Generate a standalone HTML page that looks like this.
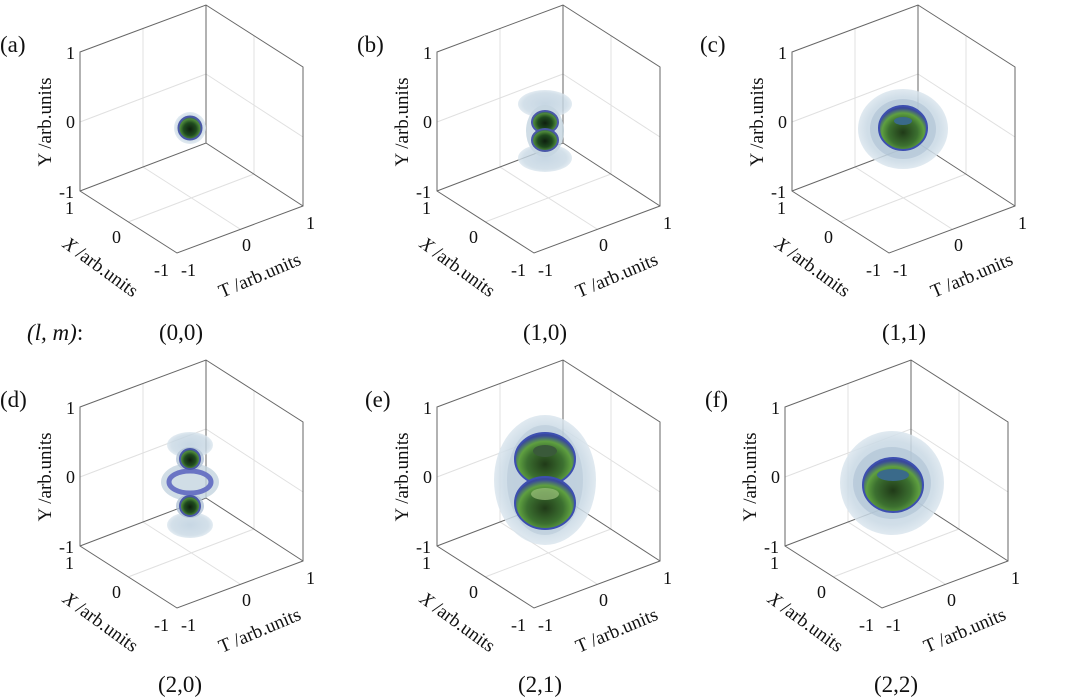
<!DOCTYPE html>
<html><head><meta charset="utf-8"><style>
body{margin:0;background:#fff}
*{font-family:"Liberation Serif","Times New Roman","DejaVu Serif",serif !important}
</style></head><body>
<svg width="1080" height="697" viewBox="0 0 1080 697" xmlns="http://www.w3.org/2000/svg" style="display:block;font-family:'Liberation Serif','DejaVu Serif',serif" fill="#111">
<defs>
<radialGradient id="core" cx="50%" cy="55%" r="55%">
<stop offset="0" stop-color="#0e1f0e"/><stop offset="0.5" stop-color="#1f4a1f"/><stop offset="0.8" stop-color="#4f8a3a"/><stop offset="1" stop-color="#2a4a80"/>
</radialGradient>
<radialGradient id="tor" cx="50%" cy="60%" r="55%">
<stop offset="0" stop-color="#203a18"/><stop offset="0.55" stop-color="#3c7030"/><stop offset="0.8" stop-color="#5fa040"/><stop offset="1" stop-color="#3a4a9a"/>
</radialGradient>
<radialGradient id="halo" cx="50%" cy="50%" r="50%">
<stop offset="0" stop-color="#b9cddd"/><stop offset="0.8" stop-color="#c8d8e4"/><stop offset="1" stop-color="#dbe6ee"/>
</radialGradient>
</defs>

<g id="a0">
<g stroke="#e0e0e0" stroke-width="1" fill="none">
<line x1="143" y1="29" x2="143" y2="167"/><line x1="80" y1="122" x2="206" y2="74"/>
<line x1="254" y1="36" x2="254" y2="174"/><line x1="206" y1="74" x2="303" y2="137"/>
<line x1="128" y1="222" x2="254" y2="174"/><line x1="143" y1="167" x2="240" y2="229"/>
</g>
<g stroke="#666" stroke-width="1" fill="none">
<polygon points="80,52 206,5 303,67 303,206 177,253 80,191"/>
<polyline points="80,191 206,143 303,206"/><line x1="206" y1="5" x2="206" y2="143"/>
</g>
</g>
<use href="#a0" x="357" y="0"/><use href="#a0" x="712" y="0"/>
<use href="#a0" x="0" y="355"/><use href="#a0" x="357" y="355"/><use href="#a0" x="705" y="355"/>

<!-- labels per panel (no <use>, to keep fonts) -->
<g font-size="18">
<g id="L">
<text x="66" y="59">1</text><text x="66" y="128">0</text><text x="59" y="198">-1</text>
<text x="65" y="214">1</text><text x="112" y="243">0</text><text x="154" y="276">-1</text>
<text x="181" y="276">-1</text><text x="242" y="251">0</text><text x="306" y="229">1</text>
<text font-size="19" text-anchor="middle" transform="translate(51,122) rotate(-90)">Y /arb.units</text>
<text font-size="19" text-anchor="middle" transform="translate(97,272) rotate(36)"><tspan font-style="italic">X</tspan> /arb.units</text>
<text font-size="19" text-anchor="middle" transform="translate(262,281) rotate(-23)">T /arb.units</text>
</g>
<g transform="translate(357,0)">
<text x="66" y="59">1</text><text x="66" y="128">0</text><text x="59" y="198">-1</text>
<text x="65" y="214">1</text><text x="112" y="243">0</text><text x="154" y="276">-1</text>
<text x="181" y="276">-1</text><text x="242" y="251">0</text><text x="306" y="229">1</text>
<text font-size="19" text-anchor="middle" transform="translate(51,122) rotate(-90)">Y /arb.units</text>
<text font-size="19" text-anchor="middle" transform="translate(97,272) rotate(36)"><tspan font-style="italic">X</tspan> /arb.units</text>
<text font-size="19" text-anchor="middle" transform="translate(262,281) rotate(-23)">T /arb.units</text>
</g>
<g transform="translate(712,0)">
<text x="66" y="59">1</text><text x="66" y="128">0</text><text x="59" y="198">-1</text>
<text x="65" y="214">1</text><text x="112" y="243">0</text><text x="154" y="276">-1</text>
<text x="181" y="276">-1</text><text x="242" y="251">0</text><text x="306" y="229">1</text>
<text font-size="19" text-anchor="middle" transform="translate(51,122) rotate(-90)">Y /arb.units</text>
<text font-size="19" text-anchor="middle" transform="translate(97,272) rotate(36)"><tspan font-style="italic">X</tspan> /arb.units</text>
<text font-size="19" text-anchor="middle" transform="translate(262,281) rotate(-23)">T /arb.units</text>
</g>
<g transform="translate(0,355)">
<text x="66" y="59">1</text><text x="66" y="128">0</text><text x="59" y="198">-1</text>
<text x="65" y="214">1</text><text x="112" y="243">0</text><text x="154" y="276">-1</text>
<text x="181" y="276">-1</text><text x="242" y="251">0</text><text x="306" y="229">1</text>
<text font-size="19" text-anchor="middle" transform="translate(51,122) rotate(-90)">Y /arb.units</text>
<text font-size="19" text-anchor="middle" transform="translate(97,272) rotate(36)"><tspan font-style="italic">X</tspan> /arb.units</text>
<text font-size="19" text-anchor="middle" transform="translate(262,281) rotate(-23)">T /arb.units</text>
</g>
<g transform="translate(357,355)">
<text x="66" y="59">1</text><text x="66" y="128">0</text><text x="59" y="198">-1</text>
<text x="65" y="214">1</text><text x="112" y="243">0</text><text x="154" y="276">-1</text>
<text x="181" y="276">-1</text><text x="242" y="251">0</text><text x="306" y="229">1</text>
<text font-size="19" text-anchor="middle" transform="translate(51,122) rotate(-90)">Y /arb.units</text>
<text font-size="19" text-anchor="middle" transform="translate(97,272) rotate(36)"><tspan font-style="italic">X</tspan> /arb.units</text>
<text font-size="19" text-anchor="middle" transform="translate(262,281) rotate(-23)">T /arb.units</text>
</g>
<g transform="translate(705,355)">
<text x="66" y="59">1</text><text x="66" y="128">0</text><text x="59" y="198">-1</text>
<text x="65" y="214">1</text><text x="112" y="243">0</text><text x="154" y="276">-1</text>
<text x="181" y="276">-1</text><text x="242" y="251">0</text><text x="306" y="229">1</text>
<text font-size="19" text-anchor="middle" transform="translate(51,122) rotate(-90)">Y /arb.units</text>
<text font-size="19" text-anchor="middle" transform="translate(97,272) rotate(36)"><tspan font-style="italic">X</tspan> /arb.units</text>
<text font-size="19" text-anchor="middle" transform="translate(262,281) rotate(-23)">T /arb.units</text>
</g>
</g>

<g font-size="23">
<!-- (a) -->
<g><text x="0" y="52">(a)</text>
<circle cx="190" cy="128" r="16" fill="url(#halo)" opacity="0.8"/>
<circle cx="190" cy="128" r="11.5" fill="url(#core)" stroke="#4a58a8" stroke-width="2"/>
</g>
<!-- (b) -->
<g transform="translate(357,0)"><text x="0" y="52">(b)</text>
<ellipse cx="188" cy="104" rx="27" ry="14" fill="url(#halo)" opacity="0.8"/>
<ellipse cx="188" cy="158" rx="27" ry="14" fill="url(#halo)" opacity="0.8"/>
<ellipse cx="188" cy="131" rx="19" ry="26" fill="#c4d4e0" opacity="0.8"/>
<ellipse cx="188" cy="122" rx="13" ry="11" fill="url(#core)" stroke="#4a58a8" stroke-width="2"/>
<ellipse cx="188" cy="140" rx="13" ry="11" fill="url(#core)" stroke="#4a58a8" stroke-width="2"/>
</g>
<!-- (c) -->
<g transform="translate(712,0)"><text x="-12" y="52">(c)</text>
<ellipse cx="191" cy="129" rx="45" ry="40" fill="url(#halo)" opacity="0.85"/>
<ellipse cx="191" cy="129" rx="33" ry="30" fill="#aec2d4" opacity="0.6"/>
<ellipse cx="191" cy="128" rx="24" ry="22" fill="url(#tor)" stroke="#3d4fb0" stroke-width="2"/>
<ellipse cx="191" cy="121" rx="9" ry="4" fill="#3a6a8a"/>
</g>
<!-- (d) -->
<g transform="translate(0,355)"><text x="0" y="52">(d)</text>
<ellipse cx="190" cy="90" rx="23" ry="13" fill="url(#halo)" opacity="0.8"/>
<ellipse cx="190" cy="170" rx="23" ry="13" fill="url(#halo)" opacity="0.8"/>
<ellipse cx="190" cy="127" rx="29" ry="19" fill="#c4d4e0" opacity="0.8"/>
<ellipse cx="190" cy="104" rx="14" ry="12" fill="#b0c2d4" opacity="0.8"/>
<ellipse cx="190" cy="151" rx="14" ry="12" fill="#b0c2d4" opacity="0.8"/>
<ellipse cx="190" cy="127" rx="21" ry="11" fill="none" stroke="#6a74c4" stroke-width="5"/>
<circle cx="190" cy="104" r="10" fill="url(#core)" stroke="#4a58a8" stroke-width="2"/>
<circle cx="190" cy="151" r="10" fill="url(#core)" stroke="#4a58a8" stroke-width="2"/>
</g>
<!-- (e) -->
<g transform="translate(357,355)"><text x="8" y="52">(e)</text>
<ellipse cx="188" cy="125" rx="51" ry="65" fill="url(#halo)" opacity="0.85"/>
<ellipse cx="188" cy="125" rx="38" ry="55" fill="#b3c6d6" opacity="0.5"/>
<ellipse cx="188" cy="104" rx="30" ry="26" fill="url(#tor)" stroke="#3d4fb0" stroke-width="2"/>
<ellipse cx="188" cy="148" rx="30" ry="26" fill="url(#tor)" stroke="#3d4fb0" stroke-width="2"/>
<ellipse cx="188" cy="96" rx="12" ry="6" fill="#3a5a3a"/>
<ellipse cx="188" cy="139" rx="14" ry="6" fill="#9bc07a" opacity="0.7"/>
</g>
<!-- (f) -->
<g transform="translate(705,355)"><text x="0" y="52">(f)</text>
<circle cx="187" cy="128" r="52" fill="url(#halo)" opacity="0.85"/>
<ellipse cx="187" cy="128" rx="39" ry="36" fill="#aec2d4" opacity="0.6"/>
<ellipse cx="188" cy="130" rx="30" ry="27" fill="url(#tor)" stroke="#3d4fb0" stroke-width="2"/>
<ellipse cx="188" cy="120" rx="16" ry="6" fill="#3a6a8a"/>
</g>

<text x="27" y="340"><tspan font-style="italic">(l, m)</tspan>:</text>
<text x="181" y="340" text-anchor="middle">(0,0)</text>
<text x="545" y="340" text-anchor="middle">(1,0)</text>
<text x="904" y="340" text-anchor="middle">(1,1)</text>
<text x="180" y="692" text-anchor="middle">(2,0)</text>
<text x="540" y="692" text-anchor="middle">(2,1)</text>
<text x="896" y="692" text-anchor="middle">(2,2)</text>
</g>
</svg>
</body></html>
